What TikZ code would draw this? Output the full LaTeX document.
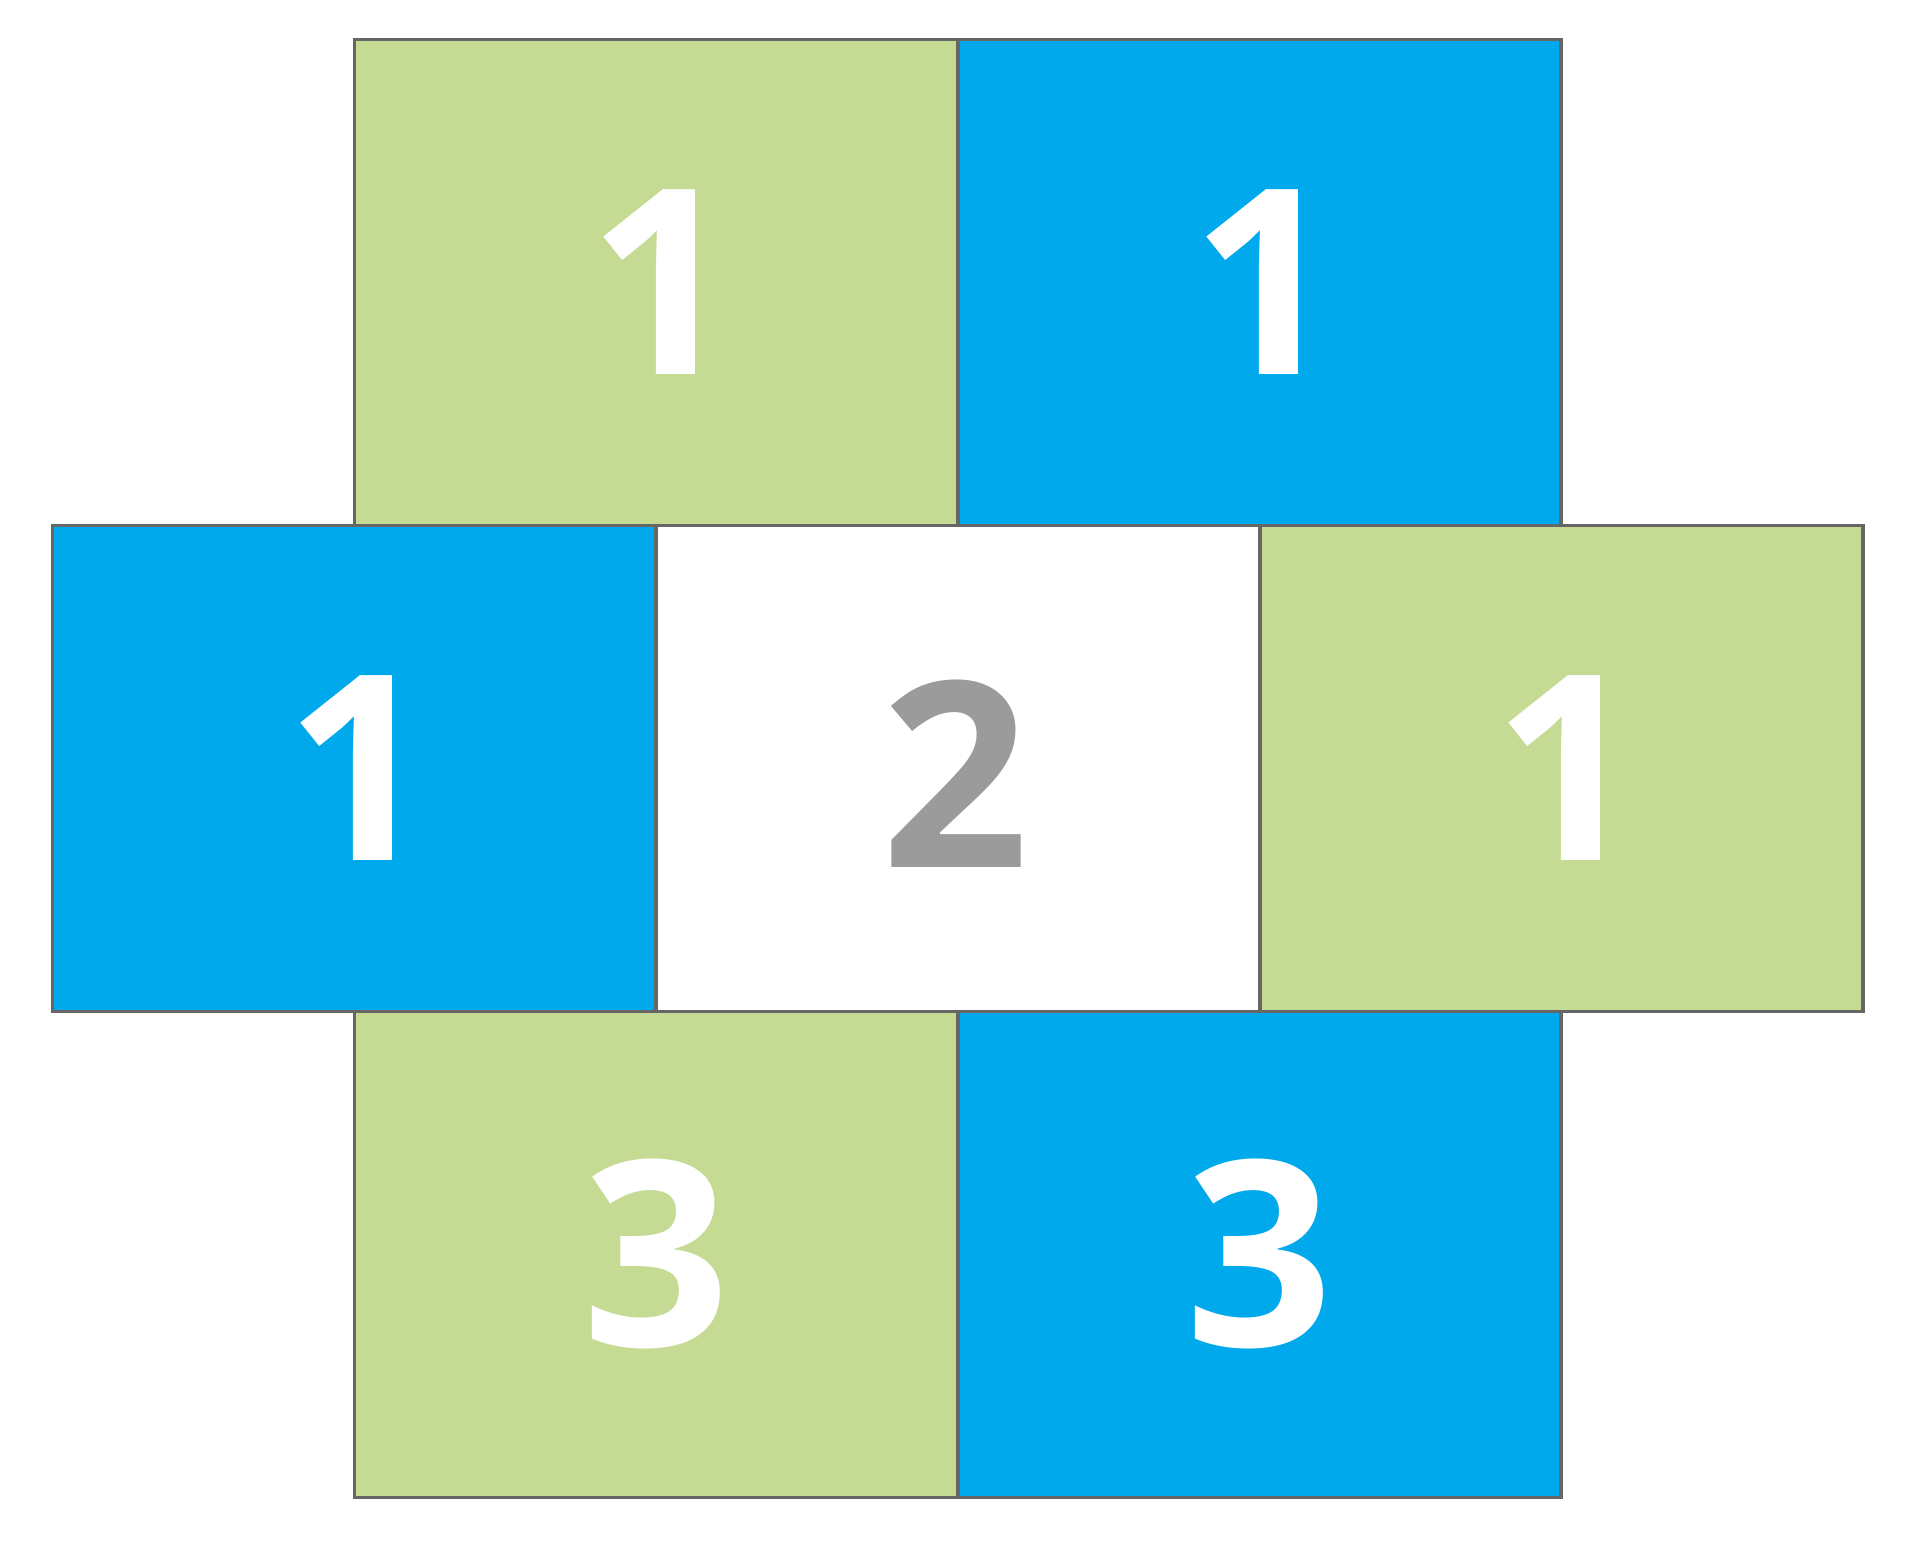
\documentclass[tikz,border=0pt]{standalone}
\usepackage{fontspec}
\setmainfont{Open Sans}
\definecolor{lgreen}{RGB}{197,219,147}
\definecolor{sblue}{RGB}{0,169,235}
\definecolor{edgegray}{RGB}{102,102,102}
\definecolor{numgray}{RGB}{155,155,155}
\newcommand{\one}{\hspace*{12pt}1}
\begin{document}
\begin{tikzpicture}[x=1pt,y=-1pt,
  cell/.style={draw=edgegray, line width=3.5pt, minimum width=603pt, minimum height=486pt,
    inner sep=0pt, text=white, font=\fontsize{259}{259}\selectfont\bfseries},
  greencell/.style={cell, fill=lgreen},
  bluecell/.style={cell, fill=sblue},
  whitecell/.style={cell, fill=white, text=numgray}]
\useasboundingbox (0,0) rectangle (1917,1542);
\node[greencell] (tl) at (656,282.4) {\one};
\node[bluecell]  (tr) at (1259.7,282.4) {\one};
\node[bluecell]  (ml) at (353.9,768.4) {\one};
\node[whitecell] (mc) at (957.8,768.4) {\hspace*{-4pt}\raisebox{-5pt}[\height][0pt]{2}};
\node[greencell] (mr) at (1561.7,768.4) {\one};
\node[greencell] (bl) at (656,1254.3) {3};
\node[bluecell]  (br) at (1259.7,1254.3) {3};
\end{tikzpicture}
\end{document}
